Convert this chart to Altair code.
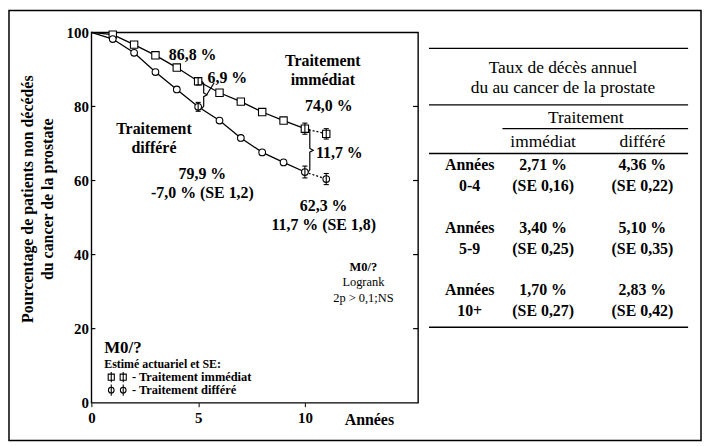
import altair as alt
import pandas as pd

FONT = "Liberation Serif"

# ---------------- data ----------------
years = list(range(0, 11))
immediat = [100, 99.4, 96.7, 93.8, 90.5, 86.8, 83.7, 81.3, 78.5, 76.2, 74.0]
differe = [100, 98.2, 94.5, 89.3, 84.6, 79.9, 76.2, 71.5, 67.6, 64.9, 62.3]
year_last = 11
immediat_last = 72.6
differe_last = 60.4
se_years = [5, 10, 11]
se_immediat = [1.0, 1.5, 1.4]
se_differe = [1.2, 1.6, 1.5]
x_ticks = [0, 5, 10]
y_ticks = [0, 20, 40, 60, 80, 100]
inner_ticks = [20, 40, 60, 80]

table_title = "Taux de décès annuel\ndu au cancer de la prostate"
table_group = "Traitement"
table_cols = ["immédiat", "différé"]
table_rows = ["Années\n0-4", "Années\n5-9", "Années\n10+"]
table_immediat = ["2,71 %\n(SE 0,16)", "3,40 %\n(SE 0,25)", "1,70 %\n(SE 0,27)"]
table_differe = ["4,36 %\n(SE 0,22)", "5,10 %\n(SE 0,35)", "2,83 %\n(SE 0,42)"]

# ---------------- tables ----------------
solid = pd.DataFrame(
    [{"x": yr, "y": v, "s": "imm"} for yr, v in zip(years, immediat)]
    + [{"x": yr, "y": v, "s": "dif"} for yr, v in zip(years, differe)]
)
dotted = pd.DataFrame([
    {"x": years[-1], "y": immediat[-1], "s": "imm"},
    {"x": year_last, "y": immediat_last, "s": "imm"},
    {"x": years[-1], "y": differe[-1], "s": "dif"},
    {"x": year_last, "y": differe_last, "s": "dif"},
])
sq = pd.DataFrame({"x": years[1:] + [year_last], "y": immediat[1:] + [immediat_last]})
ci = pd.DataFrame({"x": years[1:] + [year_last], "y": differe[1:] + [differe_last]})


def val_at(series, last, yr):
    return last if yr == year_last else series[yr]


err_rows = []
for yr, si, sd in zip(se_years, se_immediat, se_differe):
    vi = val_at(immediat, immediat_last, yr)
    vd = val_at(differe, differe_last, yr)
    err_rows.append({"x": yr, "y": vi - si, "y2": vi + si})
    err_rows.append({"x": yr, "y": vd - sd, "y2": vd + sd})
err = pd.DataFrame(err_rows)
cap_rows = []
for r in err_rows:
    for yv in (r["y"], r["y2"]):
        cap_rows.append({"x": r["x"] - 0.12, "x2": r["x"] + 0.12, "y": yv})
caps = pd.DataFrame(cap_rows)


def brace(x0, top, bot, grp):
    mid = (top + bot) / 2
    pts = [(x0 - 0.08, top), (x0, top - 0.6), (x0, mid + 0.5), (x0 + 0.16, mid),
           (x0, mid - 0.5), (x0, bot + 0.6), (x0 - 0.08, bot)]
    return [{"x": a, "y": b, "o": i, "g": grp} for i, (a, b) in enumerate(pts)]


braces = pd.DataFrame(
    brace(5.26, immediat[5], differe[5] - 0.4, "b1")
    + brace(10.23, immediat[10], differe[10], "b2")
    + [{"x": 5.42, "y": (immediat[5] + differe[5]) / 2, "o": 0, "g": "l1"},
       {"x": 5.75, "y": 86.4, "o": 1, "g": "l1"}]
)

# multi-line texts: y is the position of the first line
ann_big = pd.DataFrame([
    {"x": 4.74, "y": 94.0, "t": "86,8 %"},
    {"x": 6.37, "y": 87.7, "t": "6,9 %"},
    {"x": 10.84, "y": 92.2, "t": "Traitement\nimmédiat"},
    {"x": 11.12, "y": 80.2, "t": "74,0 %"},
    {"x": 2.93, "y": 74.0, "t": "Traitement\ndifféré"},
    {"x": 5.2, "y": 61.7, "t": "79,9 %\n-7,0 % (SE 1,2)"},
    {"x": 10.88, "y": 53.1, "t": "62,3 %\n11,7 % (SE 1,8)"},
    {"x": 13.02, "y": -4.8, "t": "Années"},
])
ann_left = pd.DataFrame([{"x": 10.52, "y": 67.4, "t": "11,7 %"}])
ann_small_bold = pd.DataFrame([{"x": 12.74, "y": 36.7, "t": "M0/?"}])
ann_small = pd.DataFrame([
    {"x": 12.74, "y": 32.7, "t": "Logrank"},
    {"x": 12.74, "y": 28.4, "t": "2p > 0,1;NS"},
])
leg_title = pd.DataFrame([{"x": 0.6, "y": 14.8, "t": "M0/?"}])
leg_sub = pd.DataFrame([{"x": 0.6, "y": 10.5, "t": "Estimé actuariel et SE:"}])
leg_items = pd.DataFrame([
    {"x": 1.9, "y": 6.9, "t": "- Traitement immédiat"},
    {"x": 1.9, "y": 3.4, "t": "- Traitement différé"},
])
leg_sq = pd.DataFrame({"x": [0.93, 1.49], "y": [6.9, 6.9]})
leg_ci = pd.DataFrame({"x": [0.93, 1.49], "y": [3.4, 3.4]})
leg_err = pd.DataFrame({"x": [0.93, 1.49, 0.93, 1.49],
                        "y": [5.5, 5.5, 1.9, 1.9], "y2": [8.3, 8.3, 4.9, 4.9]})

ticks_df = pd.DataFrame({"y": inner_ticks})

# ---------------- encodings ----------------
xscale = alt.Scale(domain=[0, 15.3], nice=False, zero=False)
yscale = alt.Scale(domain=[0, 100], nice=False)
xaxis = alt.Axis(values=x_ticks, title=None, domain=False, grid=False, ticks=True,
                 tickSize=4, tickColor="black", labelPadding=4, labelFont=FONT,
                 labelFontSize=15, labelFontWeight="bold", labelColor="black",
                 format="d", labelFlush=False)
yaxis = alt.Axis(values=y_ticks, title=None, domain=False, grid=False, ticks=False,
                 labelPadding=3, labelFont=FONT, labelFontSize=15,
                 labelFontWeight="bold", labelColor="black", format="d")


def X(f="x"):
    return alt.X(f"{f}:Q", scale=xscale, axis=xaxis)


def Y(f="y"):
    return alt.Y(f"{f}:Q", scale=yscale, axis=yaxis)


lines = alt.Chart(solid).mark_line(color="black", strokeWidth=1.3).encode(
    x=X(), y=Y(), detail="s:N")
dots = alt.Chart(dotted).mark_line(color="black", strokeWidth=1.3, strokeDash=[2, 2]).encode(
    x=X(), y=Y(), detail="s:N")
squares = alt.Chart(sq).mark_point(shape="square", filled=True, fill="white",
                                   stroke="black", strokeWidth=1.1, size=55, opacity=1).encode(
    x=X(), y=Y())
circles = alt.Chart(ci).mark_point(shape="circle", filled=True, fill="white",
                                   stroke="black", strokeWidth=1.1, size=45, opacity=1).encode(
    x=X(), y=Y())
ebars = alt.Chart(err).mark_rule(color="black", strokeWidth=1.1).encode(
    x=X(), y=Y(), y2="y2:Q")
ecaps = alt.Chart(caps).mark_rule(color="black", strokeWidth=1.1).encode(
    x=X(), x2="x2:Q", y=Y())
brace_lines = alt.Chart(braces).mark_line(color="black", strokeWidth=1.2).encode(
    x=X(), y=Y(), detail="g:N", order="o:Q")

tick_left = alt.Chart(ticks_df).mark_rule(color="black", strokeWidth=1.2).encode(
    x=alt.value(0), x2=alt.value(4), y=Y())
tick_right = alt.Chart(ticks_df).mark_rule(color="black", strokeWidth=1.2).encode(
    x=alt.value(324), x2=alt.value(329), y=Y())


def text_layer(df, size, weight="bold", align="center", lh=19):
    return alt.Chart(df).mark_text(font=FONT, fontSize=size, fontWeight=weight,
                                   align=align, baseline="middle", lineBreak="\n",
                                   lineHeight=lh, color="black").encode(
        x=X(), y=Y(), text="t:N")


t_big = text_layer(ann_big, 16)
t_left = text_layer(ann_left, 16, align="left")
t_sb = text_layer(ann_small_bold, 12.5)
t_s = text_layer(ann_small, 12.5, weight="normal")
t_lt = text_layer(leg_title, 17, align="left")
t_ls = text_layer(leg_sub, 12, align="left")
t_li = text_layer(leg_items, 12.5, align="left")
leg_s = alt.Chart(leg_sq).mark_point(shape="square", filled=True, fill="white",
                                     stroke="black", strokeWidth=1.1, size=38, opacity=1).encode(
    x=X(), y=Y())
leg_c = alt.Chart(leg_ci).mark_point(shape="circle", filled=True, fill="white",
                                     stroke="black", strokeWidth=1.1, size=32, opacity=1).encode(
    x=X(), y=Y())
leg_e = alt.Chart(leg_err).mark_rule(color="black", strokeWidth=1.1).encode(
    x=X(), y=Y(), y2="y2:Q")

# y-axis title (two lines; anchor is the first line)
ytitle = alt.Chart(pd.DataFrame({"t": ["Pourcentage de patients non décédés\ndu cancer de la prostate"]})).mark_text(
    font=FONT, fontSize=16, fontWeight="bold", angle=270, align="center",
    baseline="middle", lineBreak="\n", lineHeight=20, color="black").encode(
    x=alt.value(-64), y=alt.value(168), text="t:N")

# ---------------- table ----------------
one = pd.DataFrame({"k": [0]})


def table_text(txt, xpx, ypx, weight="bold", size=16, lh=21):
    return alt.Chart(pd.DataFrame({"t": [txt]})).mark_text(
        font=FONT, fontSize=size, fontWeight=weight, align="center", baseline="middle",
        lineBreak="\n", lineHeight=lh, color="black").encode(
        x=alt.value(xpx), y=alt.value(ypx), text="t:N")


def hrule(x1, x2, ypx):
    return alt.Chart(one).mark_rule(color="black", strokeWidth=1.3).encode(
        x=alt.value(x1), x2=alt.value(x2), y=alt.value(ypx))


row_y = [134, 197, 260]
col_x = [381, 455, 555]
table_layers = [
    hrule(340, 601, 16), hrule(340, 601, 73), hrule(414, 601, 97),
    hrule(340, 601, 122), hrule(340, 601, 297),
    table_text(table_title, 475, 36, weight="normal", size=17.5, lh=20),
    table_text(table_group, 498, 86, weight="normal", size=17.5),
    table_text(table_cols[0], col_x[1], 110, weight="normal", size=17.5),
    table_text(table_cols[1], col_x[2], 110, weight="normal", size=17.5),
]
for ry, lab, vi, vd in zip(row_y, table_rows, table_immediat, table_differe):
    table_layers.append(table_text(lab, col_x[0], ry))
    table_layers.append(table_text(vi, col_x[1], ry))
    table_layers.append(table_text(vd, col_x[2], ry))

frame = alt.Chart(one).mark_rect(fill="white", fillOpacity=0, stroke="black", strokeWidth=1.5).encode(
    x=alt.value(-83), x2=alt.value(614), y=alt.value(-22), y2=alt.value(411))

chart = alt.layer(
    lines, dots, squares, circles, ebars, ecaps, brace_lines,
    tick_left, tick_right,
    t_big, t_left, t_sb, t_s, t_lt, t_ls, t_li, leg_s, leg_c, leg_e,
    ytitle, frame, *table_layers,
).properties(
    width=329, height=373,
    autosize=alt.AutoSizeParams(type="none"),
    padding={"left": 84, "top": 23, "right": 286, "bottom": 39},
    background="white",
).configure_view(
    stroke="black", strokeWidth=1.4
)

chart.save("out.html", embed_options={"renderer": "svg", "actions": False})
